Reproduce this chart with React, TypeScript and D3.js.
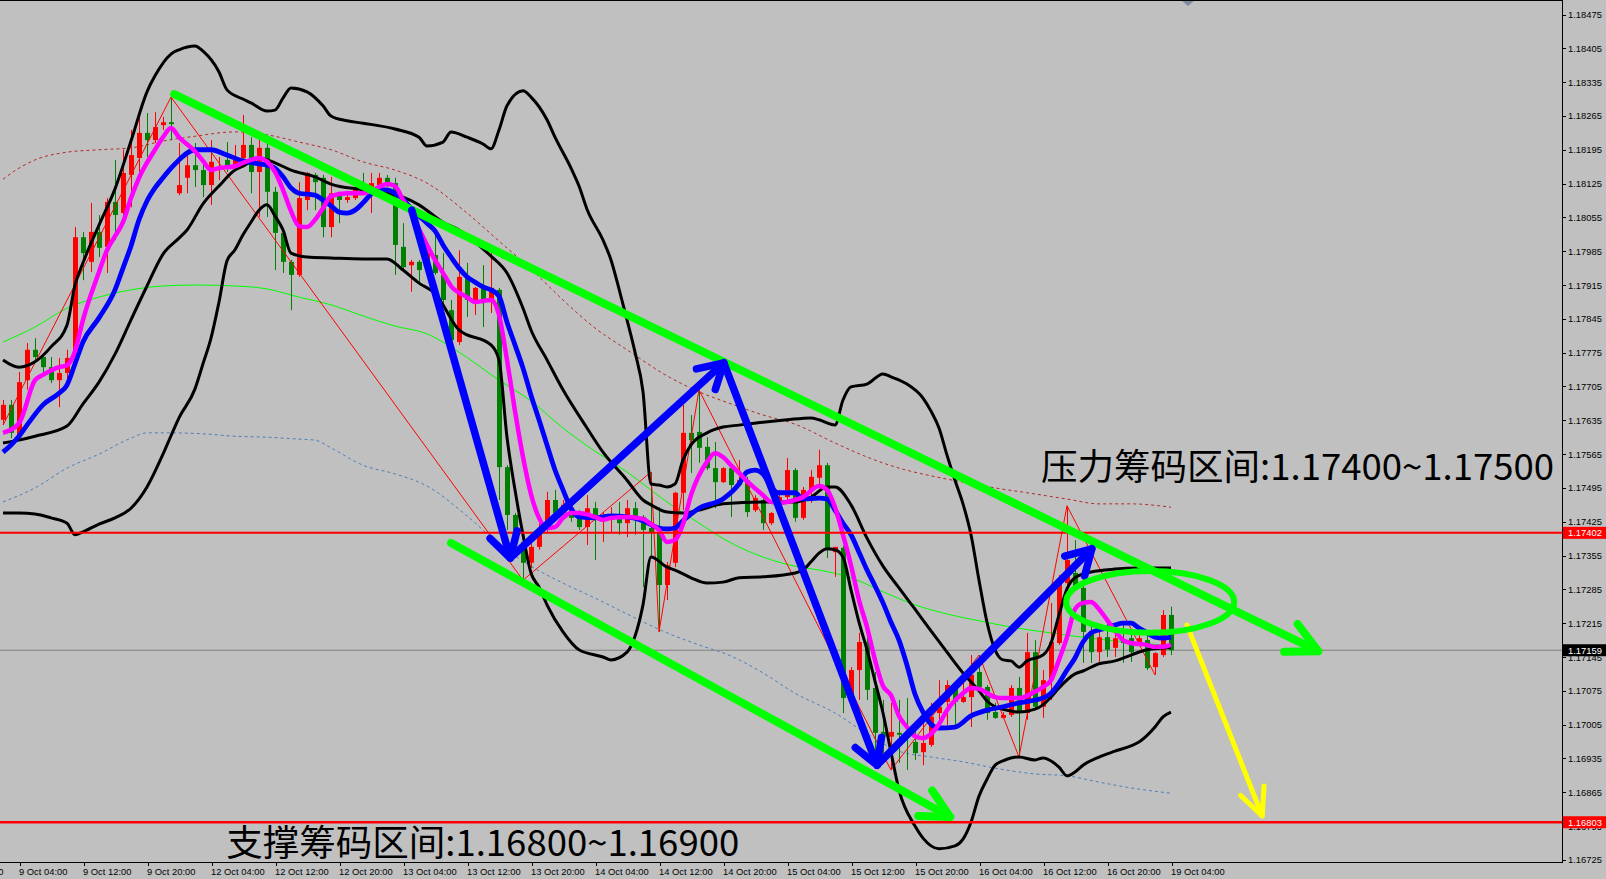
import React from 'react';
import * as d3 from 'd3';

// ---------- DATA (EURUSD H1, 9 Oct 02:00 .. 19 Oct 04:00) ----------
const candleOpen = [
  1.17636, 1.17667, 1.17600, 1.17718, 1.17781, 1.17766, 1.17745, 1.17718, 1.17733, 1.17766,
  1.18014, 1.17963, 1.18025, 1.17994, 1.18087, 1.18064, 1.18143, 1.18178, 1.18230, 1.18215,
  1.18246, 1.18252, 1.18105, 1.18137, 1.18163, 1.18153, 1.18122, 1.18153, 1.18174, 1.18159,
  1.18178, 1.18205, 1.18149, 1.18199, 1.18108, 1.18023, 1.17963, 1.17936, 1.18091, 1.18143,
  1.18137, 1.18035, 1.18101, 1.18091, 1.18095, 1.18118, 1.18118, 1.18122, 1.18137, 1.18126,
  1.17994, 1.17956, 1.17963, 1.17967, 1.17977, 1.17936, 1.17863, 1.17797, 1.17930, 1.17880,
  1.17909, 1.17884, 1.17905, 1.17538, 1.17439, 1.17383, 1.17340, 1.17373, 1.17408, 1.17470,
  1.17443, 1.17449, 1.17435, 1.17414, 1.17453, 1.17427, 1.17429, 1.17435, 1.17422, 1.17453,
  1.17435, 1.17412, 1.17402, 1.17294, 1.17340, 1.17485, 1.17609, 1.17611, 1.17580, 1.17536,
  1.17507, 1.17536, 1.17501, 1.17511, 1.17449, 1.17470, 1.17422, 1.17449, 1.17476, 1.17532,
  1.17433, 1.17491, 1.17516, 1.17542, 1.17362, 1.17371, 1.17062, 1.17118, 1.17176, 1.17081,
  1.16990, 1.16980, 1.16988, 1.16984, 1.16969, 1.16948, 1.16963, 1.17029, 1.17052, 1.17081,
  1.17052, 1.17062, 1.17114, 1.17083, 1.17031, 1.17019, 1.17025, 1.17081, 1.17029, 1.17155,
  1.17042, 1.17097, 1.17174, 1.17298, 1.17319, 1.17288, 1.17197, 1.17155, 1.17186, 1.17164,
  1.17180, 1.17184, 1.17176, 1.17180, 1.17124, 1.17149, 1.17232,
];
const candleHigh = [
  1.17677, 1.17677, 1.17735, 1.17795, 1.17805, 1.17774, 1.17766, 1.17764, 1.17781, 1.18035,
  1.18025, 1.18085, 1.18060, 1.18095, 1.18174, 1.18195, 1.18236, 1.18271, 1.18271, 1.18273,
  1.18263, 1.18304, 1.18209, 1.18184, 1.18209, 1.18174, 1.18215, 1.18180, 1.18211, 1.18205,
  1.18267, 1.18221, 1.18215, 1.18215, 1.18118, 1.18029, 1.17967, 1.18128, 1.18149, 1.18147,
  1.18143, 1.18139, 1.18108, 1.18108, 1.18126, 1.18147, 1.18147, 1.18147, 1.18143, 1.18137,
  1.18043, 1.17967, 1.17967, 1.17987, 1.18023, 1.17981, 1.17884, 1.17987, 1.17961, 1.17911,
  1.17956, 1.17981, 1.17909, 1.17542, 1.17443, 1.17387, 1.17387, 1.17422, 1.17487, 1.17491,
  1.17470, 1.17464, 1.17449, 1.17480, 1.17466, 1.17445, 1.17455, 1.17466, 1.17470, 1.17466,
  1.17439, 1.17528, 1.17455, 1.17342, 1.17487, 1.17667, 1.17646, 1.17698, 1.17600, 1.17590,
  1.17538, 1.17538, 1.17553, 1.17518, 1.17480, 1.17476, 1.17445, 1.17491, 1.17557, 1.17536,
  1.17497, 1.17532, 1.17574, 1.17547, 1.17373, 1.17375, 1.17124, 1.17195, 1.17217, 1.17114,
  1.17056, 1.17050, 1.17056, 1.17060, 1.17000, 1.17009, 1.17050, 1.17097, 1.17097, 1.17091,
  1.17097, 1.17149, 1.17149, 1.17087, 1.17050, 1.17031, 1.17087, 1.17104, 1.17195, 1.17180,
  1.17118, 1.17257, 1.17315, 1.17458, 1.17387, 1.17325, 1.17215, 1.17201, 1.17215, 1.17195,
  1.17217, 1.17201, 1.17195, 1.17195, 1.17155, 1.17242, 1.17249,
];
const candleLow = [
  1.17625, 1.17598, 1.17594, 1.17698, 1.17754, 1.17733, 1.17712, 1.17662, 1.17704, 1.17760,
  1.17925, 1.17942, 1.17973, 1.17940, 1.18008, 1.18045, 1.18076, 1.18147, 1.18180, 1.18209,
  1.18236, 1.18215, 1.18101, 1.18105, 1.18118, 1.18097, 1.18081, 1.18132, 1.18149, 1.18157,
  1.18163, 1.18105, 1.18056, 1.18056, 1.17946, 1.17940, 1.17863, 1.17932, 1.18070, 1.18070,
  1.18014, 1.18014, 1.18043, 1.18085, 1.18091, 1.18105, 1.18064, 1.18118, 1.18118, 1.17936,
  1.17946, 1.17901, 1.17919, 1.17946, 1.17936, 1.17878, 1.17797, 1.17791, 1.17849, 1.17853,
  1.17828, 1.17857, 1.17470, 1.17408, 1.17377, 1.17304, 1.17329, 1.17367, 1.17404, 1.17429,
  1.17429, 1.17425, 1.17408, 1.17377, 1.17346, 1.17383, 1.17402, 1.17398, 1.17393, 1.17398,
  1.17290, 1.17352, 1.17197, 1.17263, 1.17331, 1.17449, 1.17526, 1.17547, 1.17532, 1.17453,
  1.17505, 1.17435, 1.17497, 1.17435, 1.17445, 1.17408, 1.17418, 1.17445, 1.17464, 1.17425,
  1.17429, 1.17464, 1.17497, 1.17350, 1.17311, 1.17029, 1.17056, 1.17056, 1.17056, 1.16946,
  1.16946, 1.16911, 1.16926, 1.16911, 1.16932, 1.16921, 1.16959, 1.16994, 1.17004, 1.17000,
  1.17050, 1.17000, 1.17077, 1.17015, 1.17017, 1.17017, 1.17021, 1.16938, 1.17015, 1.17035,
  1.17019, 1.17056, 1.17170, 1.17294, 1.17284, 1.17133, 1.17133, 1.17135, 1.17145, 1.17145,
  1.17133, 1.17135, 1.17170, 1.17118, 1.17108, 1.17145, 1.17149,
];
const candleClose = [
  1.17667, 1.17609, 1.17714, 1.17781, 1.17766, 1.17745, 1.17718, 1.17733, 1.17764, 1.18014,
  1.17981, 1.18025, 1.17992, 1.18087, 1.18060, 1.18147, 1.18184, 1.18230, 1.18215, 1.18242,
  1.18252, 1.18248, 1.18122, 1.18163, 1.18153, 1.18122, 1.18170, 1.18159, 1.18163, 1.18178,
  1.18205, 1.18149, 1.18199, 1.18108, 1.18023, 1.17963, 1.17936, 1.18095, 1.18147, 1.18128,
  1.18035, 1.18105, 1.18091, 1.18097, 1.18118, 1.18112, 1.18126, 1.18137, 1.18122, 1.17998,
  1.17952, 1.17963, 1.17946, 1.17981, 1.17940, 1.17884, 1.17801, 1.17932, 1.17884, 1.17909,
  1.17880, 1.17909, 1.17538, 1.17439, 1.17383, 1.17340, 1.17373, 1.17408, 1.17470, 1.17443,
  1.17460, 1.17433, 1.17414, 1.17453, 1.17429, 1.17431, 1.17435, 1.17422, 1.17453, 1.17435,
  1.17408, 1.17402, 1.17294, 1.17335, 1.17485, 1.17609, 1.17594, 1.17578, 1.17536, 1.17507,
  1.17536, 1.17501, 1.17511, 1.17445, 1.17474, 1.17422, 1.17443, 1.17476, 1.17532, 1.17433,
  1.17491, 1.17518, 1.17542, 1.17371, 1.17373, 1.17060, 1.17118, 1.17176, 1.17077, 1.16988,
  1.16980, 1.16990, 1.16984, 1.16980, 1.16946, 1.16967, 1.17021, 1.17042, 1.17087, 1.17052,
  1.17062, 1.17108, 1.17083, 1.17029, 1.17019, 1.17025, 1.17081, 1.17029, 1.17155, 1.17042,
  1.17097, 1.17176, 1.17298, 1.17346, 1.17290, 1.17197, 1.17155, 1.17186, 1.17160, 1.17184,
  1.17174, 1.17155, 1.17184, 1.17122, 1.17153, 1.17232, 1.17159,
];

const timeTickBars = [-6, 2, 10, 18, 26, 34, 42, 50, 58, 66, 74, 82, 90, 98, 106, 114, 122, 130, 138, 146];
const timeTickLabels = [
  '8 Oct 20:00', '9 Oct 04:00', '9 Oct 12:00', '9 Oct 20:00', '12 Oct 04:00', '12 Oct 12:00',
  '12 Oct 20:00', '13 Oct 04:00', '13 Oct 12:00', '13 Oct 20:00', '14 Oct 04:00', '14 Oct 12:00',
  '14 Oct 20:00', '15 Oct 04:00', '15 Oct 12:00', '15 Oct 20:00', '16 Oct 04:00', '16 Oct 12:00',
  '16 Oct 20:00', '19 Oct 04:00',
];
const priceTicks = [
  1.16725, 1.16795, 1.16865, 1.16935, 1.17005, 1.17075, 1.17145, 1.17215, 1.17285, 1.17355,
  1.17425, 1.17495, 1.17565, 1.17635, 1.17705, 1.17775, 1.17845, 1.17915, 1.17985, 1.18055,
  1.18125, 1.18195, 1.18265, 1.18335, 1.18405, 1.18475,
];

type P = [number, number];

const bbUpper: P[] = [
  [0, 1.1776], [2, 1.17745], [4, 1.17756], [6, 1.17787], [8, 1.17832], [9, 1.17915], [10, 1.17961],
  [12, 1.18039], [14, 1.18114], [16, 1.18213], [18, 1.18315], [19, 1.18348], [21, 1.18393], [22, 1.18402],
  [24, 1.1841], [25, 1.18399], [27, 1.18356], [28, 1.18319], [30, 1.183], [31, 1.18292], [33, 1.18275],
  [34, 1.18277], [35, 1.18302], [36, 1.18323], [38, 1.18315], [40, 1.18286], [41, 1.18265], [43, 1.18255],
  [45, 1.1825], [49, 1.18238], [52, 1.18221], [53, 1.18203], [55, 1.18211], [56, 1.18232], [58, 1.18221],
  [60, 1.18207], [61, 1.18197], [62, 1.18236], [63, 1.18286], [65, 1.18317], [66, 1.18304], [68, 1.18257],
  [69, 1.18221], [71, 1.18157], [72, 1.1812], [73, 1.18072], [75, 1.18008], [76, 1.17967], [77, 1.17907],
  [78, 1.17843], [79, 1.17776], [80, 1.17694], [81, 1.17503], [82, 1.17501], [83, 1.17497], [84, 1.17503],
  [85, 1.17553], [86, 1.17584], [88, 1.17609], [90, 1.17621], [92, 1.17625], [95, 1.17631], [98, 1.17636],
  [101, 1.1764], [102, 1.17636], [104, 1.17625], [105, 1.17677], [106, 1.17704], [108, 1.1771], [110, 1.17731],
  [111, 1.17725], [113, 1.1771], [115, 1.17681], [116, 1.17654], [117, 1.17619], [118, 1.17563], [119, 1.17511],
  [120, 1.17462], [121, 1.17398], [122, 1.17304], [123, 1.17217], [124, 1.1716], [125, 1.17139], [126, 1.17137],
  [127, 1.17124], [128, 1.17137], [130, 1.17149], [131, 1.17174], [132, 1.17232], [133, 1.17286], [134, 1.17309],
  [136, 1.17321], [139, 1.17327], [142, 1.17329], [146, 1.17329],
];
const bbMiddle: P[] = [
  [0, 1.17588], [2, 1.17594], [4, 1.17602], [8, 1.17623], [10, 1.17669], [12, 1.17714], [14, 1.17772],
  [16, 1.17843], [18, 1.17913], [20, 1.17979], [22, 1.18012], [23, 1.18029], [25, 1.18083], [27, 1.1812],
  [29, 1.18153], [30, 1.18161], [32, 1.18178], [34, 1.18168], [36, 1.18153], [39, 1.18139], [41, 1.18124],
  [45, 1.18112], [50, 1.18097], [52, 1.18081], [55, 1.18045], [57, 1.18029], [60, 1.1799], [61, 1.17975],
  [63, 1.1794], [65, 1.17867], [66, 1.17822], [68, 1.1776], [70, 1.17698], [73, 1.17619], [75, 1.17569],
  [78, 1.17511], [80, 1.1747], [81, 1.1746], [83, 1.17445], [85, 1.17443], [87, 1.17449], [90, 1.17462],
  [95, 1.17466], [99, 1.17466], [101, 1.17476], [103, 1.17497], [104, 1.17497], [106, 1.1746], [108, 1.17391],
  [110, 1.17333], [112, 1.17288], [114, 1.17244], [116, 1.17199], [118, 1.17155], [120, 1.17112], [122, 1.17075],
  [123, 1.17054], [124, 1.17042], [125, 1.17037], [127, 1.17031], [129, 1.17037], [130, 1.17046], [131, 1.17062],
  [132, 1.17081], [134, 1.1711], [135, 1.17116], [137, 1.17131], [139, 1.17137], [141, 1.17149], [143, 1.1716],
  [146, 1.17164],
];
const bbLower: P[] = [
  [0, 1.17443], [2, 1.17443], [4, 1.17441], [6, 1.17433], [8, 1.17422], [9, 1.17398], [10, 1.17404],
  [12, 1.1742], [14, 1.17433], [16, 1.17453], [18, 1.17497], [20, 1.17565], [21, 1.17603], [22, 1.1764],
  [24, 1.177], [25, 1.17752], [26, 1.17805], [27, 1.1788], [28, 1.17965], [29, 1.17988], [30, 1.18019],
  [31, 1.18045], [32, 1.1807], [33, 1.18081], [34, 1.18058], [35, 1.18029], [36, 1.17981], [38, 1.17973],
  [41, 1.17971], [45, 1.17969], [48, 1.17969], [50, 1.17946], [52, 1.17919], [54, 1.17898], [57, 1.17822],
  [61, 1.17791], [62, 1.1776], [63, 1.176], [64, 1.17491], [65, 1.17398], [66, 1.17319], [67, 1.1729],
  [68, 1.17253], [70, 1.17197], [72, 1.1716], [75, 1.17145], [76, 1.17139], [78, 1.17155], [79, 1.17188],
  [80, 1.17253], [81, 1.17352], [83, 1.17331], [84, 1.17325], [86, 1.17309], [88, 1.17298], [90, 1.173],
  [92, 1.17309], [95, 1.17311], [99, 1.17319], [100, 1.17325], [101, 1.17342], [102, 1.1736], [103, 1.17369],
  [104, 1.17367], [105, 1.17352], [106, 1.17284], [107, 1.17217], [108, 1.1716], [109, 1.17095], [110, 1.17029],
  [111, 1.16948], [112, 1.1687], [114, 1.16795], [115, 1.1677], [117, 1.16748], [119, 1.16754], [120, 1.16768],
  [121, 1.16803], [122, 1.16857], [123, 1.16892], [124, 1.16921], [125, 1.1693], [127, 1.16938], [129, 1.16932],
  [130, 1.16936], [132, 1.16917], [133, 1.16899], [134, 1.16907], [135, 1.16921], [137, 1.16938], [139, 1.1695],
  [141, 1.16961], [142, 1.16969], [144, 1.17], [145, 1.17021], [146, 1.17031],
];
const maFast: P[] = [
  [0, 1.17609], [2, 1.17629], [4, 1.17718], [5, 1.17729], [7, 1.17745], [8, 1.17749], [9, 1.17778],
  [10, 1.17843], [12, 1.17942], [13, 1.17987], [14, 1.18016], [15, 1.18045], [16, 1.18095], [17, 1.18137],
  [19, 1.18195], [20, 1.18221], [21, 1.1824], [22, 1.18221], [24, 1.18192], [25, 1.18172], [26, 1.18153],
  [27, 1.18157], [29, 1.18161], [30, 1.18168], [31, 1.18174], [32, 1.18178], [34, 1.18149], [35, 1.18112],
  [36, 1.18068], [37, 1.18037], [38, 1.18035], [39, 1.1805], [40, 1.18074], [41, 1.18099], [43, 1.18105],
  [45, 1.18105], [46, 1.1811], [47, 1.18118], [48, 1.18124], [49, 1.1812], [50, 1.18091], [51, 1.18064],
  [52, 1.18031], [54, 1.17967], [55, 1.1794], [56, 1.17913], [58, 1.1789], [59, 1.1788], [60, 1.17882],
  [61, 1.17884], [62, 1.17853], [63, 1.1776], [64, 1.17654], [65, 1.17559], [66, 1.17482], [67, 1.17433],
  [68, 1.17412], [69, 1.17414], [70, 1.17433], [71, 1.17443], [72, 1.17443], [74, 1.17435], [75, 1.17429],
  [76, 1.17433], [78, 1.17435], [80, 1.17431], [81, 1.1742], [82, 1.17408], [83, 1.17383], [84, 1.17387],
  [85, 1.1742], [86, 1.1748], [88, 1.17549], [89, 1.17567], [90, 1.17559], [91, 1.17542], [92, 1.17526],
  [93, 1.17509], [95, 1.1748], [96, 1.17466], [97, 1.17464], [98, 1.17466], [99, 1.1747], [100, 1.17476],
  [102, 1.17499], [103, 1.17491], [104, 1.17455], [105, 1.17398], [106, 1.17335], [107, 1.17263], [108, 1.17207],
  [109, 1.17139], [110, 1.17085], [111, 1.17066], [112, 1.17023], [113, 1.17], [114, 1.16981], [115, 1.16977],
  [116, 1.16986], [117, 1.17006], [118, 1.17035], [120, 1.1707], [121, 1.17081], [122, 1.17079], [124, 1.17062],
  [125, 1.1706], [126, 1.1706], [127, 1.1706], [129, 1.17073], [130, 1.17083], [131, 1.17097], [132, 1.17139],
  [133, 1.17186], [134, 1.17244], [135, 1.17257], [136, 1.17259], [137, 1.17244], [138, 1.17222], [139, 1.17199],
  [140, 1.1718], [141, 1.17174], [143, 1.1717], [144, 1.17166], [145, 1.17166], [146, 1.1717],
];
const maSlow: P[] = [
  [0, 1.17569], [1, 1.17584], [2, 1.17602], [3, 1.17625], [5, 1.17667], [7, 1.17691], [8, 1.17708],
  [9, 1.17752], [10, 1.17797], [12, 1.17847], [14, 1.17905], [15, 1.1795], [16, 1.17996], [17, 1.1805],
  [18, 1.18089], [19, 1.18116], [20, 1.18137], [21, 1.18157], [22, 1.18174], [23, 1.18188], [24, 1.18195],
  [26, 1.18195], [28, 1.18184], [30, 1.18172], [32, 1.18166], [33, 1.18163], [34, 1.18157], [35, 1.18139],
  [36, 1.18116], [37, 1.18105], [39, 1.18101], [40, 1.18091], [41, 1.18079], [42, 1.18066], [43, 1.18064],
  [44, 1.1807], [45, 1.18085], [46, 1.18103], [47, 1.18112], [48, 1.18112], [49, 1.18105], [50, 1.18093],
  [51, 1.18074], [52, 1.18058], [53, 1.18043], [54, 1.18027], [55, 1.17998], [56, 1.17973], [57, 1.1795],
  [58, 1.17932], [59, 1.17921], [60, 1.17911], [61, 1.17905], [62, 1.17892], [63, 1.17838], [64, 1.17791],
  [65, 1.17743], [66, 1.17687], [67, 1.17636], [68, 1.17584], [69, 1.17532], [70, 1.17491], [71, 1.17453],
  [72, 1.17435], [74, 1.17433], [76, 1.17437], [78, 1.17435], [80, 1.17427], [82, 1.17412], [83, 1.1741],
  [84, 1.17412], [85, 1.17427], [87, 1.17453], [90, 1.17472], [92, 1.17503], [93, 1.17528], [94, 1.17532],
  [95, 1.17524], [96, 1.17497], [97, 1.17485], [99, 1.17485], [100, 1.17472], [102, 1.17474], [103, 1.17472],
  [104, 1.17449], [105, 1.17422], [106, 1.17398], [107, 1.17362], [108, 1.17325], [109, 1.17292], [110, 1.17257],
  [111, 1.17217], [112, 1.1718], [113, 1.17128], [114, 1.17068], [115, 1.17031], [116, 1.17006], [117, 1.16998],
  [119, 1.17], [121, 1.17023], [123, 1.17035], [125, 1.17042], [127, 1.1705], [129, 1.17056], [130, 1.1706],
  [131, 1.1707], [132, 1.17091], [133, 1.17118], [134, 1.17143], [135, 1.17176], [136, 1.17195], [137, 1.17201],
  [138, 1.17205], [139, 1.17211], [140, 1.17215], [141, 1.17215], [142, 1.17205], [143, 1.17195], [144, 1.17186],
  [145, 1.17184], [146, 1.17186],
];
const maLong: P[] = [
  [0, 1.17797], [4, 1.17828], [8, 1.17867], [12, 1.1789], [16, 1.17905], [20, 1.17913], [24, 1.17915],
  [29, 1.17913], [33, 1.17907], [37, 1.1789], [41, 1.17874], [45, 1.17851], [49, 1.1783], [53, 1.17814],
  [57, 1.17776], [62, 1.17718], [66, 1.17675], [70, 1.17619], [74, 1.17571], [78, 1.17528], [83, 1.17466],
  [87, 1.17422], [91, 1.17381], [95, 1.17352], [99, 1.17333], [102, 1.17325], [106, 1.17309], [110, 1.1728],
  [114, 1.17253], [118, 1.17234], [122, 1.1722], [126, 1.17207], [130, 1.17197], [134, 1.17188], [138, 1.1718],
  [142, 1.17174], [146, 1.17168],
];
const envUpper: P[] = [
  [0, 1.18134], [2, 1.18157], [4, 1.18174], [8, 1.1819], [12, 1.18195], [16, 1.18199], [20, 1.18213],
  [24, 1.18223], [29, 1.18232], [33, 1.18226], [37, 1.18211], [41, 1.18195], [45, 1.1817], [49, 1.18153],
  [53, 1.18126], [58, 1.18064], [62, 1.18006], [66, 1.17948], [70, 1.17884], [74, 1.17826], [78, 1.17781],
  [83, 1.17727], [87, 1.17694], [91, 1.17669], [95, 1.17646], [99, 1.17627], [104, 1.17588], [108, 1.17559],
  [112, 1.17536], [116, 1.1752], [120, 1.17507], [124, 1.17495], [128, 1.17485], [133, 1.17472], [137, 1.17462],
  [141, 1.17462], [146, 1.17455],
];
const envLower: P[] = [
  [0, 1.17466], [4, 1.17495], [8, 1.17536], [12, 1.17565], [16, 1.17598], [18, 1.17609], [21, 1.17609],
  [25, 1.17607], [29, 1.17602], [33, 1.176], [37, 1.17596], [39, 1.17594], [41, 1.17578], [45, 1.17542],
  [49, 1.17524], [53, 1.17499], [58, 1.17437], [62, 1.17379], [66, 1.17333], [70, 1.17298], [74, 1.17267],
  [78, 1.17234], [83, 1.17195], [87, 1.1717], [91, 1.17147], [95, 1.17112], [99, 1.1707], [104, 1.17029],
  [108, 1.16986], [112, 1.1695], [116, 1.16938], [120, 1.16928], [124, 1.16915], [129, 1.16903], [133, 1.16899],
  [137, 1.16886], [141, 1.16874], [146, 1.16863],
];
const zigzag: P[] = [
  [0, 1.17625], [21, 1.18304], [65, 1.17304], [81, 1.17528], [82, 1.17197], [87, 1.17698],
  [111, 1.16911], [122, 1.17149], [127, 1.16938], [133, 1.17458], [144, 1.17108],
];

const resistanceLevel = 1.17402;
const supportLevel = 1.16803;
const bidPrice = 1.17159;

// analyst drawings (bar index, price)
const trendUpper: P[] = [[21.4, 1.1831], [164.4, 1.17157]];
const trendLower: P[] = [[56, 1.17381], [118.4, 1.16814]];
const waveArrows: P[][] = [
  [[51.1, 1.1807], [63.4, 1.1735]],
  [[63.4, 1.1735], [90.1, 1.17754]],
  [[90.1, 1.17754], [109.25, 1.16921]],
  [[109.25, 1.16921], [136.1, 1.17369]],
];
const forecastArrow: P[] = [[148, 1.17211], [157.4, 1.16816]];
const zoneEllipse = { bar: 143.4, price: 1.17259, barRadius: 10.5, priceRadius: 0.00064 };
const resistanceText = '压力筹码区间:1.17400~1.17500';
const supportText = '支撑筹码区间:1.16800~1.16900';

// ---------- CHART ----------
const W = 1606;
const H = 879;
const PR = 1562; // plot right
const PB = 862; // plot bottom

function head(p1: number[], p2: number[], len: number, ang: number) {
  const dx = p1[0] - p2[0];
  const dy = p1[1] - p2[1];
  const L = Math.hypot(dx, dy);
  const ux = dx / L, uy = dy / L;
  const a = (ang * Math.PI) / 180;
  const rot = (s: number) => [
    p2[0] + len * (ux * Math.cos(s * a) - uy * Math.sin(s * a)),
    p2[1] + len * (ux * Math.sin(s * a) + uy * Math.cos(s * a)),
  ];
  const b1 = rot(1), b2 = rot(-1);
  return `M${b1[0]},${b1[1]}L${p2[0]},${p2[1]}L${b2[0]},${b2[1]}`;
}

export default function App() {
  const x = d3.scaleLinear().domain([0, 146]).range([3, 1171]);
  const y = d3.scaleLinear().domain([1.16725, 1.18475]).range([859.9, 14.5]);
  const curve = d3.line<P>().x((d) => x(d[0])).y((d) => y(d[1])).curve(d3.curveMonotoneX);
  const straight = d3.line<P>().x((d) => x(d[0])).y((d) => y(d[1]));
  const px = (d: P) => [x(d[0]), y(d[1])];

  const axisFont = { fontFamily: '"Liberation Sans", Arial, sans-serif', fontSize: 9.4 };
  const bigFont = '"Noto Sans CJK SC", "Noto Sans", sans-serif';

  const drawArrow = (pts: P[], color: string, w: number, len: number, ang: number, key: string) => {
    const a = px(pts[0]);
    const b = px(pts[1]);
    return (
      <g key={key} stroke={color} strokeWidth={w} strokeLinecap="round" strokeLinejoin="round" fill="none">
        <path d={straight(pts) || ''} />
        <path d={head(a, b, len, ang)} />
      </g>
    );
  };

  const labelBox = (price: number, bg: string, key: string) => {
    const yy = y(price);
    return (
      <g key={key}>
        <rect x={PR + 1} y={yy - 6} width={W - PR - 1} height={12} fill={bg} />
        <text x={1568} y={yy + 3.5} fill="#ffffff" {...axisFont}>
          {price.toFixed(5)}
        </text>
      </g>
    );
  };

  return (
    <svg width={W} height={H} style={{ position: 'absolute', left: 0, top: 0, display: 'block' }}>
      <defs>
        <clipPath id="plot">
          <rect x={0} y={0} width={PR} height={PB} />
        </clipPath>
      </defs>
      <rect x={0} y={0} width={W} height={H} fill="#c0c0c0" />

      <g clipPath="url(#plot)">
        {/* long-period envelope */}
        <path d={curve(envUpper) || ''} fill="none" stroke="#b52a2a" strokeWidth={1} strokeDasharray="3,3" />
        <path d={curve(envLower) || ''} fill="none" stroke="#4f7fb8" strokeWidth={1} strokeDasharray="3,3" />
        <path d={curve(maLong) || ''} fill="none" stroke="#00ff00" strokeWidth={1} />

        {/* bid line */}
        <line x1={0} x2={PR} y1={y(bidPrice)} y2={y(bidPrice)} stroke="#808080" strokeWidth={1} />

        {/* candles */}
        {candleOpen.map((o, i) => {
          const c = candleClose[i];
          const up = c >= o;
          const col = up ? '#ff0000' : '#008000';
          const cx = Math.round(x(i));
          const top = y(Math.max(o, c));
          const bot = y(Math.min(o, c));
          return (
            <g key={i}>
              <line x1={cx + 0.5} x2={cx + 0.5} y1={y(candleHigh[i])} y2={y(candleLow[i])} stroke={col} strokeWidth={1} />
              <rect x={cx - 2} y={top} width={5} height={Math.max(1, bot - top)} fill={col} />
            </g>
          );
        })}

        {/* zigzag */}
        <path d={straight(zigzag) || ''} fill="none" stroke="#ff0000" strokeWidth={1} />

        {/* Bollinger bands */}
        {[bbUpper, bbMiddle, bbLower].map((s, k) => (
          <path key={k} d={curve(s) || ''} fill="none" stroke="#000000" strokeWidth={3} strokeLinejoin="round" />
        ))}

        {/* moving averages */}
        <path d={curve(maSlow) || ''} fill="none" stroke="#0000ff" strokeWidth={4.8} strokeLinejoin="round" />
        <path d={curve(maFast) || ''} fill="none" stroke="#ff00ff" strokeWidth={4.5} strokeLinejoin="round" />

        <line x1={0} x2={PR} y1={y(resistanceLevel)} y2={y(resistanceLevel)} stroke="#ff0000" strokeWidth={2} />
        <line x1={0} x2={PR} y1={y(supportLevel)} y2={y(supportLevel)} stroke="#ff0000" strokeWidth={2.5} />

        {/* analyst drawings */}
        {drawArrow(trendUpper, '#00ff00', 8, 34, 27, 'tu')}
        {drawArrow(trendLower, '#00ff00', 8, 32, 27, 'tl')}
        {waveArrows.map((a, k) => drawArrow(a, '#0000ff', 7.5, 28, 30, 'w' + k))}
        {drawArrow(forecastArrow, '#ffff00', 5, 30, 25, 'fy')}
        <ellipse
          cx={x(zoneEllipse.bar)}
          cy={y(zoneEllipse.price)}
          rx={x(zoneEllipse.barRadius) - x(0)}
          ry={y(zoneEllipse.price - zoneEllipse.priceRadius) - y(zoneEllipse.price)}
          fill="none"
          stroke="#00ff00"
          strokeWidth={6}
        />
        <text x={x(129.75)} y={y(1.17512)} fontFamily={bigFont} fontSize={36} fill="#000" textLength={513} lengthAdjust="spacingAndGlyphs">
          {resistanceText}
        </text>
        <text x={x(27.9)} y={y(1.16733)} fontFamily={bigFont} fontSize={36} fill="#000" textLength={513} lengthAdjust="spacingAndGlyphs">
          {supportText}
        </text>
        <polygon points="1181,0 1195,0 1188,6" fill="#7c8aa0" />
      </g>

      {/* frame */}
      <line x1={0} x2={PR} y1={0.5} y2={0.5} stroke="#000" strokeWidth={1} />
      <line x1={PR + 0.5} x2={PR + 0.5} y1={0} y2={PB} stroke="#000" strokeWidth={1} />
      <line x1={0} x2={PR + 1} y1={PB + 0.5} y2={PB + 0.5} stroke="#000" strokeWidth={1} />

      {/* price axis */}
      {priceTicks.map((p) => (
        <g key={p}>
          <line x1={PR} x2={PR + 4} y1={Math.round(y(p)) + 0.5} y2={Math.round(y(p)) + 0.5} stroke="#000" />
          <text x={1568} y={y(p) + 3.5} fill="#000" {...axisFont}>
            {p.toFixed(5)}
          </text>
        </g>
      ))}
      {labelBox(resistanceLevel, '#ff0000', 'r')}
      {labelBox(supportLevel, '#ff0000', 's')}
      {labelBox(bidPrice, '#000000', 'b')}

      {/* time axis */}
      {timeTickBars.map((b, k) => {
        const tx = Math.round(x(b)) + 1.5;
        return (
          <g key={k}>
            <line x1={tx} x2={tx} y1={PB} y2={PB + 4} stroke="#000" />
            <text x={tx - 1.5} y={874.5} fill="#000" {...axisFont}>
              {timeTickLabels[k]}
            </text>
          </g>
        );
      })}
    </svg>
  );
}
